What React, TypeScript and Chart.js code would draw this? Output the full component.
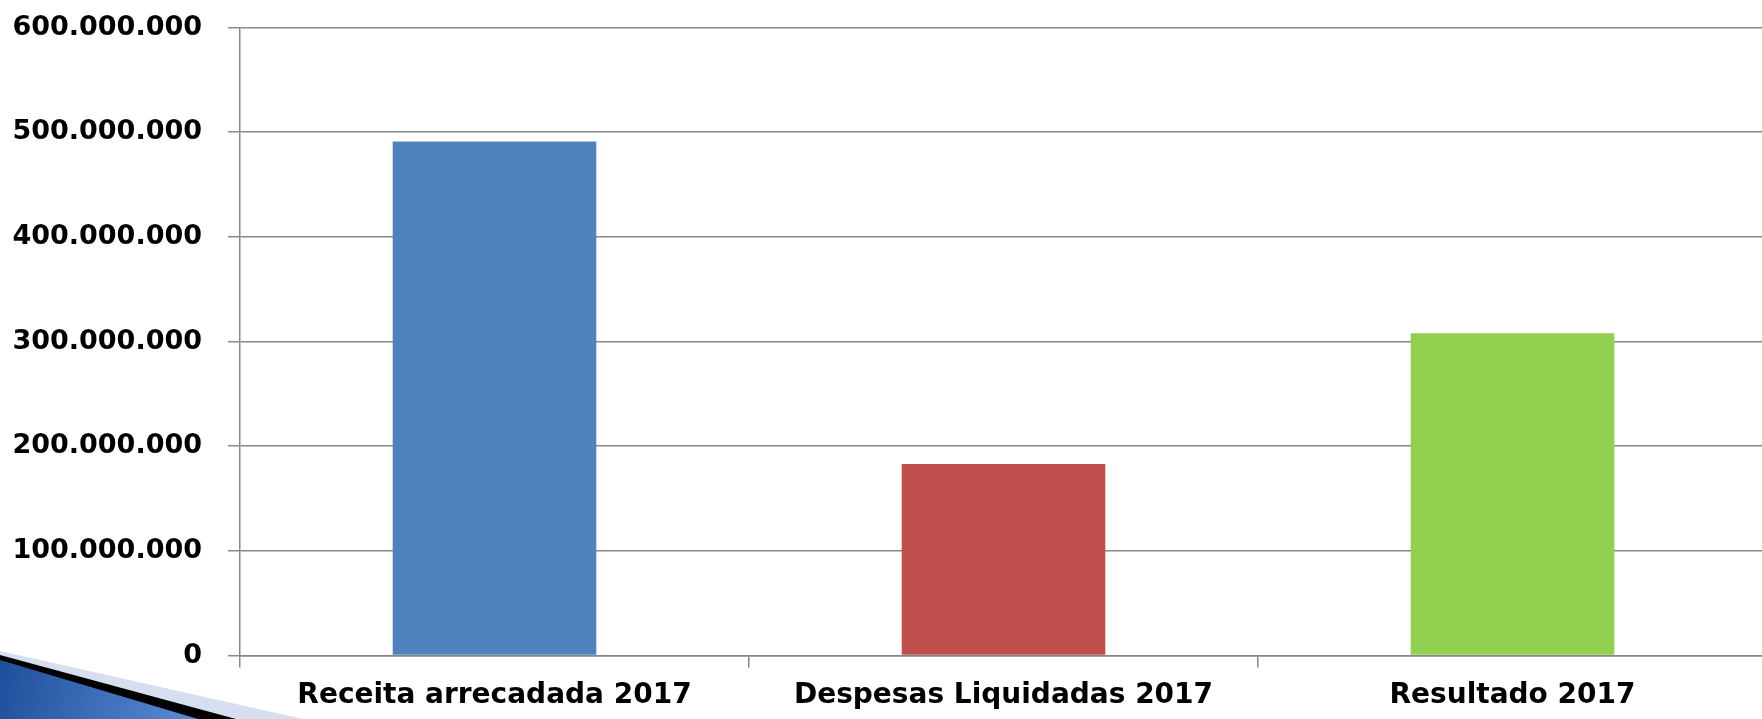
import React, { useEffect, useRef } from 'react';
import { Chart, registerables } from 'chart.js';

Chart.register(...registerables);

const categories = ['Receita arrecadada 2017', 'Despesas Liquidadas 2017', 'Resultado 2017'];
const values = [491000000, 183000000, 308000000];
const barColors = ['#4F81BD', '#C0504D', '#92D050'];
const yMin = 0;
const yMax = 600000000;
const yStep = 100000000;

const formatThousands = (v: number) => String(Math.round(v)).replace(/\B(?=(\d{3})+(?!\d))/g, '.');

const swoosh = {
  id: 'swoosh',
  afterDraw(chart: any) {
    const ctx = chart.ctx;
    ctx.save();
    ctx.fillStyle = '#d6dff0';
    ctx.beginPath();
    ctx.moveTo(0, 651);
    ctx.lineTo(303, 719);
    ctx.lineTo(0, 719);
    ctx.closePath();
    ctx.fill();
    ctx.fillStyle = '#000000';
    ctx.beginPath();
    ctx.moveTo(0, 655);
    ctx.lineTo(236, 719);
    ctx.lineTo(0, 719);
    ctx.closePath();
    ctx.fill();
    const g = ctx.createLinearGradient(0, 665, 200, 719);
    g.addColorStop(0, '#1f4f9c');
    g.addColorStop(1, '#5a8dd6');
    ctx.fillStyle = g;
    ctx.beginPath();
    ctx.moveTo(0, 660);
    ctx.lineTo(198, 719);
    ctx.lineTo(0, 719);
    ctx.closePath();
    ctx.fill();
    ctx.restore();
  },
};

export default function App() {
  const ref = useRef<HTMLCanvasElement | null>(null);
  useEffect(() => {
    if (!ref.current) return;
    const gridColor = '#888888';
    const chart = new Chart(ref.current, {
      type: 'bar',
      data: {
        labels: categories,
        datasets: [
          {
            data: values,
            backgroundColor: barColors,
            borderWidth: 0,
            barPercentage: 0.4,
            categoryPercentage: 1,
          },
        ],
      },
      plugins: [swoosh],
      options: {
        responsive: false,
        animation: false,
        devicePixelRatio: 1,
        layout: { padding: { top: 27.5, right: 3, left: 0, bottom: 0 } },
        plugins: { legend: { display: false }, tooltip: { enabled: false } },
        scales: {
          x: {
            offset: true,
            grid: {
              offset: true,
              drawOnChartArea: false,
              drawTicks: true,
              tickLength: 12,
              color: gridColor,
              lineWidth: 1.5,
            },
            border: { display: true, color: gridColor, width: 1.5 },
            ticks: {
              color: '#000000',
              padding: 11,
              maxRotation: 0,
              autoSkip: false,
              font: { family: 'DejaVu Sans', weight: 'bold', size: 28 },
            },
            afterFit: (scale: any) => {
              scale.height = 63.5;
            },
          },
          y: {
            min: yMin,
            max: yMax,
            ticks: {
              stepSize: yStep,
              color: '#000000',
              padding: 26,
              font: { family: 'DejaVu Sans', weight: 'bold', size: 27 },
              callback: (v: any) => formatThousands(Number(v)),
            },
            grid: {
              color: gridColor,
              lineWidth: 1.5,
              drawTicks: true,
              tickLength: 12,
            },
            border: { display: true, color: gridColor, width: 1.5 },
            afterFit: (scale: any) => {
              scale.width = 240;
              scale.paddingTop = 0;
              scale.paddingBottom = 0;
            },
          },
        },
      },
    });
    return () => chart.destroy();
  }, []);
  return (
    <div
      style={{
        position: 'fixed',
        left: 0,
        top: 0,
        width: 1762,
        height: 719,
        overflow: 'hidden',
        background: '#ffffff',
      }}
    >
      <canvas ref={ref} width={1770} height={719} style={{ display: 'block' }} />
    </div>
  );
}
